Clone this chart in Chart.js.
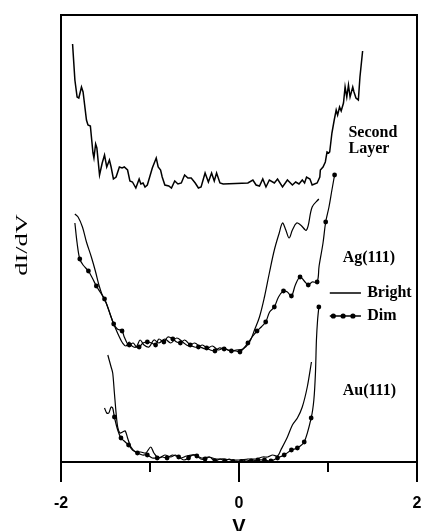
<!DOCTYPE html>
<html>
<head>
<meta charset="utf-8">
<script src="https://cdn.jsdelivr.net/npm/chart.js@4.4.1/dist/chart.umd.min.js"></script>
<style>
  html, body { margin: 0; padding: 0; background: #fff; }
  #wrap { width: 421px; height: 531px; }
</style>
</head>
<body>
<div id="wrap"><canvas id="stsChart"></canvas></div>
<script>
// bias (V) and dI/dV (arbitrary units, curves offset vertically)
const secondV = [-1.870,-1.844,-1.819,-1.800,-1.770,-1.752,-1.714,-1.697,-1.670,-1.641,-1.630,-1.611,-1.597,-1.567,-1.537,-1.511,-1.486,-1.456,-1.437,-1.411,-1.381,-1.344,-1.314,-1.289,-1.252,-1.226,-1.197,-1.159,-1.122,-1.103,-1.078,-1.056,-1.030,-0.974,-0.930,-0.908,-0.881,-0.863,-0.833,-0.789,-0.759,-0.722,-0.686,-0.648,-0.611,-0.574,-0.537,-0.492,-0.456,-0.426,-0.381,-0.344,-0.308,-0.278,-0.252,-0.214,-0.178,0.100,0.156,0.192,0.230,0.267,0.303,0.341,0.397,0.433,0.489,0.544,0.600,0.637,0.674,0.711,0.737,0.759,0.797,0.822,0.878,0.908,0.914,0.944,0.970,0.989,1.008,1.019,1.044,1.070,1.092,1.108,1.130,1.148,1.174,1.192,1.211,1.230,1.248,1.278,1.292,1.314,1.341,1.359,1.389];
const secondY = [418,382,365,364,375,370,342,337,336,309,304,318,314,287,299,307,295,302,295,283,285,295,294,295,292,281,280,274,283,278,279,275,277,294,304,295,292,285,277,276,274,281,278,279,287,284,284,279,274,275,289,280,289,281,289,279,278,279,282,277,276,283,275,282,279,283,275,282,277,280,278,282,279,285,283,277,279,285,292,295,300,310,309,310,329,342,352,347,355,351,359,375,365,377,365,375,370,364,362,385,411];

const agBrightV = [-1.844,-1.808,-1.759,-1.714,-1.659,-1.611,-1.574,-1.537,-1.492,-1.437,-1.389,-1.344,-1.308,-1.270,-1.233,-1.203,-1.156,-1.111,-1.067,-1.011,-0.956,-0.900,-0.833,-0.767,-0.700,-0.633,-0.567,-0.500,-0.433,-0.367,-0.300,-0.233,-0.167,-0.100,-0.033,0.044,0.119,0.174,0.230,0.286,0.341,0.397,0.452,0.489,0.526,0.563,0.600,0.648,0.692,0.759,0.822,0.897];
const agBrightY = [248,245,235,220,205,190,177,167,159,145,134,125,119,116,120,116,115,122,117,115,122,119,123,119,124,120,116,119,115,113,116,112,114,111,112,113,120,132,145,165,189,212,229,239,232,224,232,239,237,232,255,263];

const agDimV = [-1.844,-1.819,-1.789,-1.752,-1.692,-1.648,-1.603,-1.561,-1.511,-1.456,-1.408,-1.367,-1.314,-1.289,-1.252,-1.233,-1.189,-1.152,-1.122,-1.078,-1.030,-0.981,-0.937,-0.900,-0.844,-0.800,-0.744,-0.700,-0.659,-0.611,-0.548,-0.500,-0.456,-0.411,-0.363,-0.322,-0.270,-0.222,-0.167,-0.122,-0.086,-0.033,0.011,0.056,0.100,0.156,0.203,0.250,0.300,0.344,0.397,0.444,0.500,0.544,0.589,0.633,0.686,0.733,0.778,0.822,0.878,0.900,0.944,0.974,1.011,1.044,1.074];
const agDimY = [239,219,203,197,191,184,176,170,163,150,138,133,131,125,118,117,119,115,115,119,120,119,117,123,120,125,123,120,119,122,117,115,115,117,114,112,111,114,113,112,111,111,110,114,119,126,131,135,140,150,155,165,171,170,166,177,185,181,177,180,180,196,219,240,255,272,287];
const agDotV = [-1.789,-1.692,-1.603,-1.511,-1.408,-1.314,-1.233,-1.122,-1.030,-0.937,-0.844,-0.744,-0.659,-0.548,-0.456,-0.363,-0.270,-0.167,-0.086,0.011,0.100,0.203,0.300,0.397,0.500,0.589,0.686,0.778,0.878,0.974,1.074];
const agDotY = [203,191,176,163,138,131,117,115,120,117,120,123,119,117,115,114,111,113,111,110,119,131,140,155,171,166,185,177,180,240,287];

const auBrightV = [-1.474,-1.437,-1.419,-1.400,-1.381,-1.363,-1.337,-1.308,-1.278,-1.252,-1.214,-1.159,-1.103,-1.048,-0.992,-0.956,-0.900,-0.833,-0.767,-0.714,-0.656,-0.589,-0.492,-0.422,-0.344,-0.256,-0.167,-0.078,0.011,0.100,0.189,0.267,0.322,0.378,0.433,0.470,0.544,0.600,0.656,0.711,0.767,0.814];
const auBrightY = [107,95,89,69,49,35,29,30,31,24,15,10,10,9,15,9,4,7,5,7,4,6,7,4,5,3,3,2,2,3,3,5,5,7,6,12,25,37,44,55,75,100];

const auDimV = [-1.511,-1.486,-1.463,-1.437,-1.419,-1.400,-1.363,-1.326,-1.278,-1.241,-1.197,-1.141,-1.086,-1.030,-0.974,-0.919,-0.863,-0.808,-0.750,-0.678,-0.620,-0.567,-0.520,-0.474,-0.430,-0.381,-0.330,-0.270,-0.210,-0.159,-0.110,-0.067,0.026,0.080,0.137,0.211,0.286,0.359,0.433,0.508,0.589,0.656,0.733,0.811,0.841,0.859,0.870,0.883,0.897];
const auDimY = [54,49,49,55,54,45,32,24,20,17,12,9,7,7,4,4,5,4,7,5,2,4,7,6,3,3,5,1,3,1,3,0.5,0.5,2,1,2,2,1,4,7,12,14,20,44,62,89,122,142,155];
const auDotV = [-1.400,-1.326,-1.241,-1.141,-1.030,-0.919,-0.808,-0.678,-0.567,-0.474,-0.381,-0.270,-0.159,-0.067,0.026,0.137,0.211,0.286,0.359,0.433,0.508,0.589,0.656,0.733,0.811,0.897];
const auDotY = [45,24,17,9,7,4,4,5,4,6,3,1,1,0.5,0.5,1,2,2,1,4,7,12,14,20,44,155];

const xTicks = [-2, -1, 0, 1, 2];
const xLabels = ['-2', '', '0', '', '2'];

function pts(xs, ys) {
    return xs.map((x, i) => ({ x: x, y: ys[i] }));
}

function curve(xs, ys, width, tension) {
    return {
        data: pts(xs, ys),
        showLine: true,
        borderColor: '#000',
        borderWidth: width,
        pointRadius: 0,
        tension: tension
    };
}

function dots(xs, ys) {
    return {
        data: pts(xs, ys),
        showLine: false,
        pointRadius: 2.4,
        pointBackgroundColor: '#000',
        pointBorderWidth: 0
    };
}

// frame, long ticks and the text inside the plot
const extras = {
    id: 'extras',
    afterDraw(chart) {
        const ctx = chart.ctx;
        const a = chart.chartArea;
        const xs = chart.scales.x;
        ctx.save();
        ctx.strokeStyle = '#000';
        ctx.lineWidth = 2;
        ctx.strokeRect(a.left, a.top, a.right - a.left, a.bottom - a.top);
        [-2, 0, 2].forEach(v => {
            const px = xs.getPixelForValue(v);
            ctx.beginPath();
            ctx.moveTo(px, a.bottom);
            ctx.lineTo(px, a.bottom + 20);
            ctx.stroke();
        });

        ctx.fillStyle = '#000';
        ctx.font = 'bold 16px "Liberation Serif", "Times New Roman", serif';
        ctx.textAlign = 'left';
        ctx.textBaseline = 'middle';
        const y = v => a.bottom - v;
        ctx.fillText('Second', xs.getPixelForValue(1.23), y(329));
        ctx.fillText('Layer', xs.getPixelForValue(1.23), y(313));
        ctx.fillText('Ag(111)', xs.getPixelForValue(1.165), y(204));
        ctx.fillText('Au(111)', xs.getPixelForValue(1.165), y(71));
        ctx.fillText('Bright', xs.getPixelForValue(1.44), y(169));
        ctx.fillText('Dim', xs.getPixelForValue(1.44), y(146));

        // legend samples
        const l0 = xs.getPixelForValue(1.02), l1 = xs.getPixelForValue(1.37);
        ctx.lineWidth = 1.5;
        ctx.beginPath();
        ctx.moveTo(l0, y(169)); ctx.lineTo(l1, y(169));
        ctx.moveTo(l0, y(146)); ctx.lineTo(l1, y(146));
        ctx.stroke();
        [1.06, 1.17, 1.28].forEach(v => {
            ctx.beginPath();
            ctx.arc(xs.getPixelForValue(v), y(146), 2.6, 0, Math.PI * 2);
            ctx.fill();
        });

        // y axis title
        ctx.translate(23, 245);
        ctx.rotate(-Math.PI / 2);
        ctx.scale(1.65, 1);
        ctx.font = '16px "Liberation Serif", "Times New Roman", serif';
        ctx.textAlign = 'center';
        ctx.fillText('dI/dV', 0, 0);
        ctx.restore();
    }
};

new Chart(document.getElementById('stsChart'), {
    type: 'scatter',
    data: {
        datasets: [
            curve(secondV, secondY, 1.5, 0),
            curve(agBrightV, agBrightY, 1.2, 0.35),
            curve(agDimV, agDimY, 1.2, 0.35),
            dots(agDotV, agDotY),
            curve(auBrightV, auBrightY, 1.2, 0.3),
            curve(auDimV, auDimY, 1.2, 0.3),
            dots(auDotV, auDotY)
        ]
    },
    options: {
        responsive: true,
        maintainAspectRatio: false,
        animation: false,
        layout: { padding: { left: 61, top: 15, right: 1, bottom: 0 } },
        plugins: {
            legend: { display: false },
            tooltip: { enabled: false }
        },
        scales: {
            x: {
                type: 'linear',
                min: -2,
                max: 2,
                afterBuildTicks: s => { s.ticks = xTicks.map(v => ({ value: v })); },
                afterFit: s => { s.height = 69; s.paddingLeft = 0; s.paddingRight = 0; },
                grid: { drawOnChartArea: false, color: '#000', lineWidth: 2, tickLength: 10 },
                border: { display: true, color: '#000', width: 2 },
                ticks: {
                    color: '#000',
                    padding: 22,
                    maxRotation: 0,
                    font: { family: '"Liberation Sans", Arial, sans-serif', size: 16, weight: 'bold' },
                    callback: (v) => xLabels[xTicks.indexOf(v)]
                },
                title: {
                    display: true,
                    text: 'V',
                    color: '#000',
                    padding: { top: 0, bottom: -6 },
                    font: { family: '"Liberation Sans", Arial, sans-serif', size: 20, weight: 'bold', lineHeight: 1 }
                }
            },
            y: {
                display: false,
                min: 0,
                max: 447
            }
        }
    },
    plugins: [extras]
});
</script>
</body>
</html>
